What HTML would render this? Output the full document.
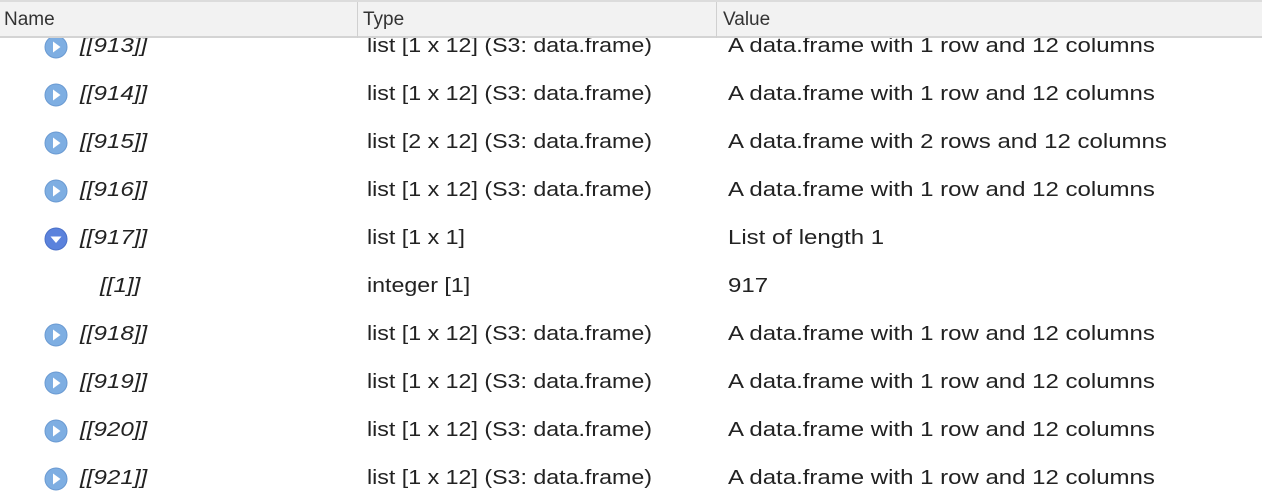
<!DOCTYPE html>
<html><head><style>
body{margin:0;width:1262px;height:495px;background:#fff;overflow:hidden;font-family:"Liberation Sans",sans-serif;position:relative;color:#222}
.hdr{position:absolute;left:0;top:0;width:1262px;height:38px;background:#f2f2f2;border-top:2px solid #dcdcdc;border-bottom:2px solid #d4d4d4;z-index:2;box-sizing:border-box}
.hdr span{position:absolute;top:7px;font-size:19px;color:#333}
.sep{position:absolute;top:0;width:1px;height:36px;background:#d0d0d0}
.row{position:absolute;left:0;width:1262px;height:48px;font-size:20px}
.row span{position:absolute;top:13px;white-space:nowrap;transform-origin:0 50%}
.nm{font-style:italic;transform:scaleX(1.21)}
.t{transform:scaleX(1.16)}
.v{transform:scaleX(1.2)}
.ic{position:absolute;left:44px;top:13px;width:24px;height:24px}
</style></head><body>
<div class="hdr"><span style="left:4px">Name</span><div class="sep" style="left:357px"></div><span style="left:363px">Type</span><div class="sep" style="left:716px"></div><span style="left:723px">Value</span></div>

<div class="row" style="top:22px"><svg class="ic" viewBox="0 0 24 24"><circle cx="12" cy="12" r="11" fill="#7eaee2" stroke="#6a9ad2"/><path d="M9 6.5 L16.5 12 L9 17.5Z" fill="#fff"/></svg><span class="nm" style="left:80px">[[913]]</span><span class="t" style="left:367px">list [1 x 12] (S3: data.frame)</span><span class="v" style="left:728px">A data.frame with 1 row and 12 columns</span></div>
<div class="row" style="top:70px"><svg class="ic" viewBox="0 0 24 24"><circle cx="12" cy="12" r="11" fill="#7eaee2" stroke="#6a9ad2"/><path d="M9 6.5 L16.5 12 L9 17.5Z" fill="#fff"/></svg><span class="nm" style="left:80px">[[914]]</span><span class="t" style="left:367px">list [1 x 12] (S3: data.frame)</span><span class="v" style="left:728px">A data.frame with 1 row and 12 columns</span></div>
<div class="row" style="top:118px"><svg class="ic" viewBox="0 0 24 24"><circle cx="12" cy="12" r="11" fill="#7eaee2" stroke="#6a9ad2"/><path d="M9 6.5 L16.5 12 L9 17.5Z" fill="#fff"/></svg><span class="nm" style="left:80px">[[915]]</span><span class="t" style="left:367px">list [2 x 12] (S3: data.frame)</span><span class="v" style="left:728px">A data.frame with 2 rows and 12 columns</span></div>
<div class="row" style="top:166px"><svg class="ic" viewBox="0 0 24 24"><circle cx="12" cy="12" r="11" fill="#7eaee2" stroke="#6a9ad2"/><path d="M9 6.5 L16.5 12 L9 17.5Z" fill="#fff"/></svg><span class="nm" style="left:80px">[[916]]</span><span class="t" style="left:367px">list [1 x 12] (S3: data.frame)</span><span class="v" style="left:728px">A data.frame with 1 row and 12 columns</span></div>
<div class="row" style="top:214px"><svg class="ic" viewBox="0 0 24 24"><circle cx="12" cy="12" r="11" fill="#5b82dc" stroke="#4a70c8"/><path d="M6.5 9.5 L17.5 9.5 L12 16Z" fill="#fff"/></svg><span class="nm" style="left:80px">[[917]]</span><span class="t" style="left:367px">list [1 x 1]</span><span class="v" style="left:728px">List of length 1</span></div>
<div class="row" style="top:262px"><span class="nm" style="left:100px">[[1]]</span><span class="t" style="left:367px">integer [1]</span><span class="v" style="left:728px">917</span></div>
<div class="row" style="top:310px"><svg class="ic" viewBox="0 0 24 24"><circle cx="12" cy="12" r="11" fill="#7eaee2" stroke="#6a9ad2"/><path d="M9 6.5 L16.5 12 L9 17.5Z" fill="#fff"/></svg><span class="nm" style="left:80px">[[918]]</span><span class="t" style="left:367px">list [1 x 12] (S3: data.frame)</span><span class="v" style="left:728px">A data.frame with 1 row and 12 columns</span></div>
<div class="row" style="top:358px"><svg class="ic" viewBox="0 0 24 24"><circle cx="12" cy="12" r="11" fill="#7eaee2" stroke="#6a9ad2"/><path d="M9 6.5 L16.5 12 L9 17.5Z" fill="#fff"/></svg><span class="nm" style="left:80px">[[919]]</span><span class="t" style="left:367px">list [1 x 12] (S3: data.frame)</span><span class="v" style="left:728px">A data.frame with 1 row and 12 columns</span></div>
<div class="row" style="top:406px"><svg class="ic" viewBox="0 0 24 24"><circle cx="12" cy="12" r="11" fill="#7eaee2" stroke="#6a9ad2"/><path d="M9 6.5 L16.5 12 L9 17.5Z" fill="#fff"/></svg><span class="nm" style="left:80px">[[920]]</span><span class="t" style="left:367px">list [1 x 12] (S3: data.frame)</span><span class="v" style="left:728px">A data.frame with 1 row and 12 columns</span></div>
<div class="row" style="top:454px"><svg class="ic" viewBox="0 0 24 24"><circle cx="12" cy="12" r="11" fill="#7eaee2" stroke="#6a9ad2"/><path d="M9 6.5 L16.5 12 L9 17.5Z" fill="#fff"/></svg><span class="nm" style="left:80px">[[921]]</span><span class="t" style="left:367px">list [1 x 12] (S3: data.frame)</span><span class="v" style="left:728px">A data.frame with 1 row and 12 columns</span></div>
</body></html>
